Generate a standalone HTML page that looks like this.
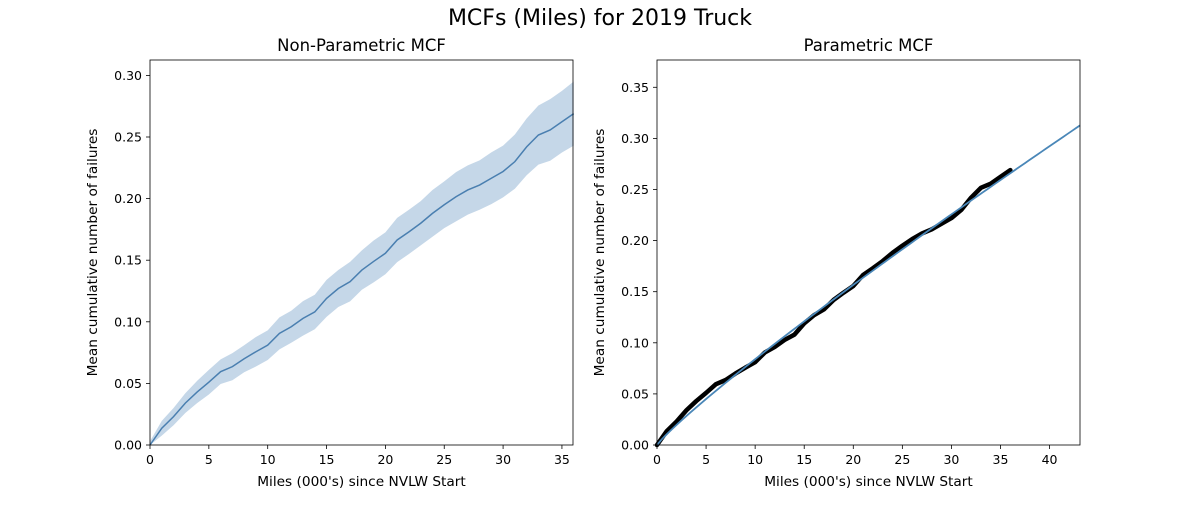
<!DOCTYPE html>
<html><head><meta charset="utf-8"><style>
body{margin:0;background:#fff;}
svg text{font-family:"DejaVu Sans","Liberation Sans",sans-serif;fill:#000;}
</style></head><body>
<svg id="fig" width="1200" height="500" xmlns="http://www.w3.org/2000/svg">
<text x="600" y="25" font-size="22" text-anchor="middle">MCFs (Miles) for 2019 Truck</text>
</svg>
<script>
const miles = [0,1,2,3,4,5,6,7,8,9,10,11,12,13,14,15,16,17,18,19,20,21,22,23,24,25,26,27,28,29,30,31,32,33,34,35,36];
const mcf = [0,0.0136,0.023,0.034,0.043,0.051,0.0595,0.0636,0.070,0.0757,0.081,0.0906,0.096,0.1028,0.108,0.119,0.127,0.1326,0.142,0.149,0.1556,0.1664,0.173,0.18,0.188,0.195,0.2015,0.207,0.211,0.2165,0.222,0.230,0.242,0.2516,0.2557,0.2624,0.269];
const ciHalf = [0.003,0.006,0.007,0.008,0.009,0.010,0.010,0.011,0.011,0.012,0.012,0.013,0.013,0.014,0.014,0.015,0.015,0.016,0.016,0.017,0.017,0.018,0.018,0.018,0.019,0.019,0.020,0.020,0.020,0.021,0.021,0.022,0.023,0.024,0.025,0.025,0.026];
const leftYTicks = ["0.00","0.05","0.10","0.15","0.20","0.25","0.30"];
const rightYTicks = ["0.00","0.05","0.10","0.15","0.20","0.25","0.30","0.35"];
const leftXTicks = [0,5,10,15,20,25,30,35];
const rightXTicks = [0,5,10,15,20,25,30,35,40];
const fitScale = 0.01057;
const fitPower = 0.90;

const NS="http://www.w3.org/2000/svg";
const svg=document.getElementById('fig');
function mk(tag,attrs,parent){const e=document.createElementNS(NS,tag);for(const k in attrs)e.setAttribute(k,attrs[k]);(parent||svg).appendChild(e);return e;}

function axes(x0,x1,y0,y1,xmax,ymax,xt,yt,title,prefix){
  const sx=v=>x0+v/xmax*(x1-x0), sy=v=>y1-v/ymax*(y1-y0);
  const g=mk('g',{});
  
  
  xt.forEach(v=>{const x=sx(v);
    const t=mk('line',{x1:x,x2:x,y1:y1,y2:y1+4,stroke:'#000','stroke-width':0.8},g);
    
    
    const l=mk('text',{x:x,y:y1+19,'font-size':12.5,'text-anchor':'middle'},g);l.textContent=v;
    
    
  });
  yt.forEach(s=>{const y=sy(parseFloat(s));
    const t=mk('line',{x1:x0-4,x2:x0,y1:y,y2:y,stroke:'#000','stroke-width':0.8},g);
    
    
    const l=mk('text',{x:x0-8,y:y+4.5,'font-size':12.5,'text-anchor':'end'},g);l.textContent=s;
    
    
  });
  const tt=mk('text',{x:(x0+x1)/2,y:y0-9,'font-size':16.5,'text-anchor':'middle'},g);tt.textContent=title;
  
  
  const xl=mk('text',{x:(x0+x1)/2,y:y1+41,'font-size':13.7,'text-anchor':'middle'},g);xl.textContent="Miles (000's) since NVLW Start";
  
  
  const yl=mk('text',{x:0,y:0,'font-size':13.7,'text-anchor':'middle',transform:`translate(${x0-53},${(y0+y1)/2}) rotate(-90)`},g);yl.textContent="Mean cumulative number of failures";
  
  
  return {sx,sy,frame:()=>{const f=mk('rect',{x:x0,y:y0,width:x1-x0,height:y1-y0,fill:'none',stroke:'#000','stroke-width':0.8});
    
    }};
}
function linePath(sx,sy,vals){let d='';miles.forEach((m,i)=>{d+=(i?'L':'M')+sx(m)+','+sy(vals[i]);});return d;}

// Left
const L=axes(150,573,60,445,35.94,0.3125,leftXTicks,leftYTicks,'Non-Parametric MCF','left');
const up=mcf.map((v,i)=>v+ciHalf[i]), lo=mcf.map((v,i)=>Math.max(0,v-ciHalf[i]));
let bd='';miles.forEach((m,i)=>{bd+=(i?'L':'M')+L.sx(m)+','+L.sy(up[i]);});
for(let i=miles.length-1;i>=0;i--)bd+='L'+L.sx(miles[i])+','+L.sy(lo[i]);
const band=mk('path',{d:bd+'Z',fill:'#c5d7e8',stroke:'none'});


const ln=mk('path',{d:linePath(L.sx,L.sy,mcf),fill:'none',stroke:'#4a7fb0','stroke-width':1.5});


L.frame();

// Right
const R=axes(657,1080,60,445,43.1,0.3767,rightXTicks,rightYTicks,'Parametric MCF','right');
const pts=mk('path',{d:linePath(R.sx,R.sy,mcf),fill:'none',stroke:'#000','stroke-width':4.5,'stroke-linejoin':'round','stroke-linecap':'round'});


let fd='';for(let i=0;i<=100;i++){const m=43.1*i/100;fd+=(i?'L':'M')+R.sx(m)+','+R.sy(fitScale*Math.pow(m,fitPower));}
const fit=mk('path',{d:fd,fill:'none',stroke:'#4a87b8','stroke-width':1.8});


R.frame();
</script>
</body></html>
